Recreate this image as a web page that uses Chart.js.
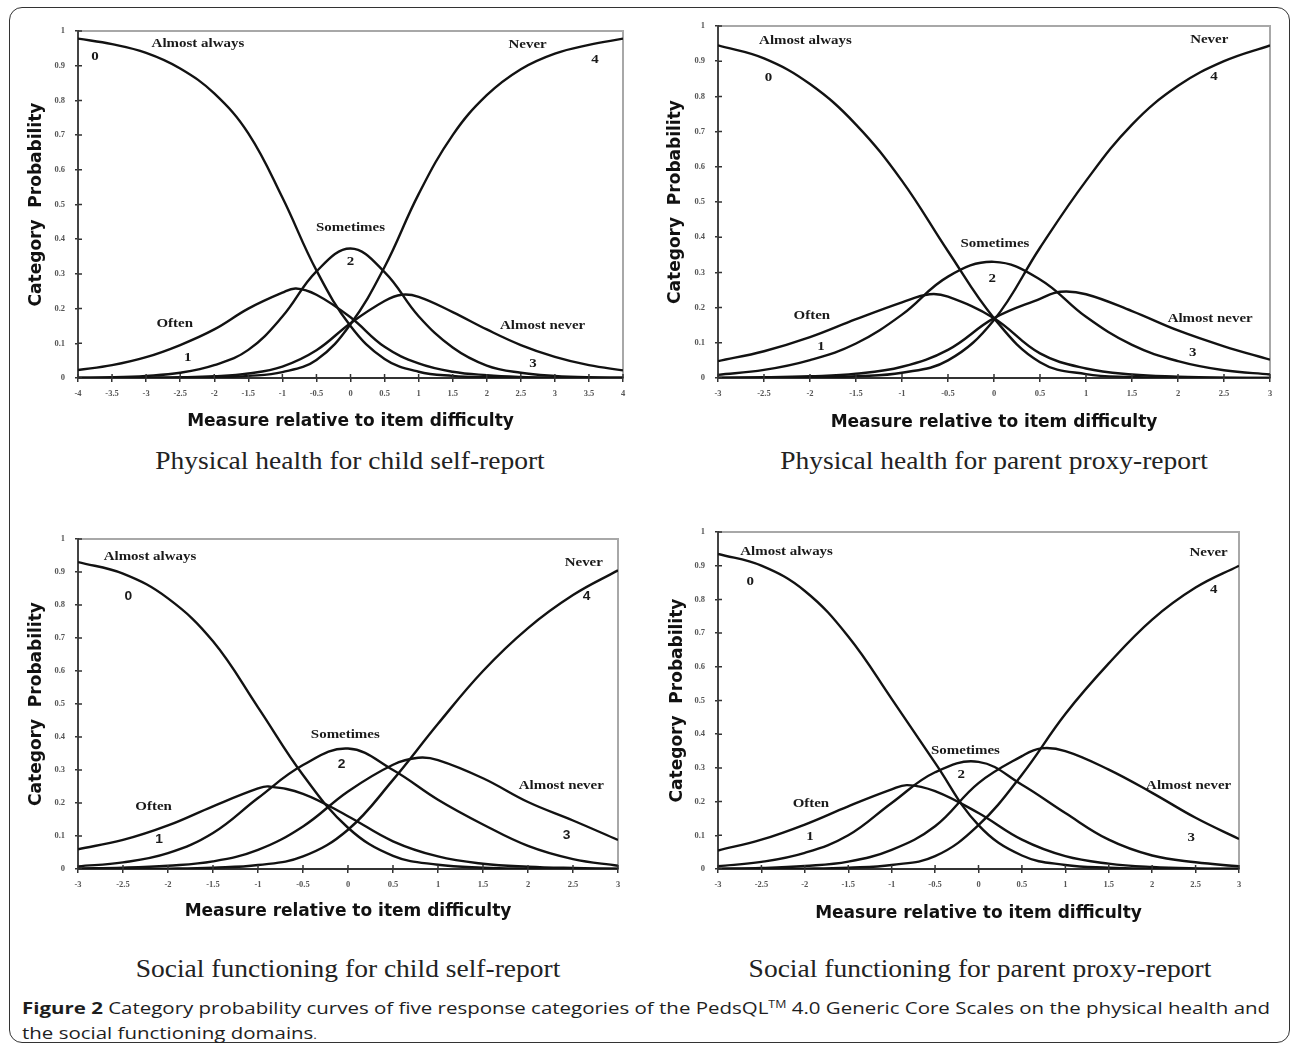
<!DOCTYPE html>
<html>
<head>
<meta charset="utf-8">
<script src="https://cdn.jsdelivr.net/npm/chart.js@4.4.0/dist/chart.umd.min.js"></script>
<style>
  body{margin:0;background:#fff;width:1290px;height:1053px;overflow:hidden;position:relative}
  #frame{position:absolute;left:9px;top:7px;width:1281px;height:1036px;border:1.5px solid #333;border-radius:13px;box-sizing:border-box}
  .panel{position:absolute}
  .sub{position:absolute;font-family:"Liberation Serif",serif;font-size:25px;line-height:30px;color:#222;white-space:nowrap;transform:translateX(-50%) scaleX(1.1)}
  #cap{position:absolute;left:22px;top:995px;font-family:"Open Sans",sans-serif;font-size:16.5px;line-height:25px;color:#1e1e1e;white-space:nowrap;transform-origin:0 0;transform:scaleX(1.24)}
  #cap sup{font-size:10px;line-height:0}
</style>
</head>
<body>
<div id="frame"></div>

<div class="panel" style="left:0;top:0"><canvas id="c1" width="640" height="440"></canvas></div>
<div class="panel" style="left:640px;top:0"><canvas id="c2" width="650" height="440"></canvas></div>
<div class="panel" style="left:0;top:490px"><canvas id="c3" width="640" height="440"></canvas></div>
<div class="panel" style="left:640px;top:490px"><canvas id="c4" width="650" height="440"></canvas></div>

<div class="sub" style="left:350px;top:446px">Physical health for child self-report</div>
<div class="sub" style="left:994px;top:446px">Physical health for parent proxy-report</div>
<div class="sub" style="left:348px;top:954px">Social functioning for child self-report</div>
<div class="sub" style="left:980px;top:954px">Social functioning for parent proxy-report</div>

<div id="cap"><b>Figure 2</b> Category probability curves of five response categories of the PedsQL<sup>TM</sup> 4.0 Generic Core Scales on the physical health and<br>the social functioning domains<span style="font-size:11px">.</span></div>

<script>
// ---- data ----
const categories = ["Almost always", "Often", "Sometimes", "Almost never", "Never"];

// physical health, child self-report (x from -4 to 4)
const phcX = [-4,-3.5,-3,-2.5,-2,-1.5,-1,-0.5,0,0.5,1,1.5,2,2.5,3,3.5,4];
const phcAlways      = [0.978,0.962,0.937,0.892,0.82,0.705,0.52,0.31,0.15,0.055,0.018,0.006,0.002,0.001,0,0,0];
const phcOften       = [0.023,0.037,0.06,0.095,0.14,0.2,0.246,0.24,0.175,0.09,0.042,0.018,0.008,0.003,0.001,0,0];
const phcSometimes   = [0.001,0.002,0.006,0.015,0.037,0.081,0.177,0.307,0.373,0.305,0.178,0.088,0.036,0.015,0.006,0.002,0.001];
const phcAlmostNever = [0,0,0.001,0.002,0.005,0.013,0.033,0.08,0.158,0.222,0.234,0.19,0.14,0.095,0.061,0.037,0.022];
const phcNever       = [0,0,0,0.001,0.002,0.006,0.017,0.052,0.155,0.32,0.53,0.70,0.815,0.89,0.935,0.96,0.978];
const phcPeaks = [null, [-0.8,0.258], null, [0.75,0.24], null];

// physical health, parent proxy-report
const pppX = [-3,-2.5,-2,-1.5,-1,-0.5,0,0.5,1,1.5,2,2.5,3];
const pppAlways      = [0.945,0.908,0.835,0.72,0.56,0.36,0.17,0.045,0.011,0.003,0.001,0,0];
const pppOften       = [0.048,0.076,0.116,0.167,0.215,0.231,0.17,0.07,0.027,0.01,0.004,0.001,0];
const pppSometimes   = [0.009,0.023,0.051,0.098,0.18,0.288,0.33,0.28,0.174,0.094,0.048,0.022,0.01];
const pppAlmostNever = [0.001,0.002,0.005,0.012,0.032,0.08,0.17,0.225,0.238,0.19,0.135,0.09,0.052];
const pppNever       = [0,0,0.001,0.005,0.015,0.05,0.165,0.37,0.56,0.72,0.83,0.9,0.945];
const pppPeaks = [null, [-0.7,0.238], null, [0.72,0.245], null];

// social functioning, child self-report
const sfcX = [-3,-2.5,-2,-1.5,-1,-0.5,0,0.5,1,1.5,2,2.5,3];
const sfcAlways      = [0.93,0.895,0.82,0.69,0.49,0.285,0.125,0.04,0.013,0.004,0.001,0,0];
const sfcOften       = [0.06,0.088,0.132,0.19,0.244,0.228,0.16,0.084,0.038,0.016,0.007,0.003,0.001];
const sfcSometimes   = [0.008,0.02,0.048,0.109,0.215,0.315,0.365,0.3,0.21,0.135,0.07,0.03,0.01];
const sfcAlmostNever = [0.002,0.004,0.01,0.023,0.058,0.129,0.235,0.316,0.33,0.275,0.203,0.147,0.088];
const sfcNever       = [0,0,0.001,0.004,0.012,0.038,0.119,0.27,0.44,0.60,0.73,0.83,0.905];
const sfcPeaks = [null, [-0.88,0.25], null, [0.78,0.337], null];

// social functioning, parent proxy-report
const sfpX = [-3,-2.5,-2,-1.5,-1,-0.5,0,0.5,1,1.5,2,2.5,3];
const sfpAlways      = [0.935,0.9,0.825,0.69,0.505,0.315,0.13,0.04,0.012,0.004,0.001,0,0];
const sfpOften       = [0.055,0.087,0.132,0.186,0.236,0.231,0.166,0.087,0.038,0.016,0.006,0.002,0.001];
const sfpSometimes   = [0.008,0.021,0.048,0.1,0.196,0.287,0.318,0.25,0.166,0.087,0.04,0.02,0.008];
const sfpAlmostNever = [0.001,0.003,0.009,0.022,0.057,0.127,0.255,0.335,0.35,0.295,0.226,0.152,0.089];
const sfpNever       = [0,0,0.001,0.004,0.012,0.038,0.13,0.28,0.46,0.61,0.74,0.835,0.9];
const sfpPeaks = [null, [-0.82,0.249], null, [0.72,0.358], null];

// in-plot labels (text, x, probability)
const phcLabels = [["Almost always",-2.24,0.963],["0",-3.75,0.925],["Never",2.6,0.96],["4",3.59,0.917],
  ["Sometimes",0,0.432],["2",0,0.335],["Often",-2.58,0.157],["1",-2.39,0.058],["Almost never",2.82,0.15],["3",2.68,0.04]];
const pppLabels = [["Almost always",-2.05,0.957],["0",-2.45,0.852],["Never",2.34,0.96],["4",2.39,0.855],
  ["Sometimes",0.01,0.382],["2",-0.02,0.282],["Often",-1.98,0.178],["1",-1.88,0.09],["Almost never",2.35,0.168],["3",2.16,0.071]];
const sfcLabels = [["Almost always",-2.2,0.948],["0",-2.44,0.825],["Never",2.62,0.927],["4",2.65,0.824],
  ["Sometimes",-0.03,0.408],["2",-0.07,0.315],["Often",-2.16,0.19],["1",-2.1,0.089],["Almost never",2.37,0.252],["3",2.43,0.1]];
const sfpLabels = [["Almost always",-2.21,0.941],["0",-2.63,0.853],["Never",2.65,0.94],["4",2.71,0.828],
  ["Sometimes",-0.15,0.352],["2",-0.2,0.28],["Often",-1.93,0.195],["1",-1.94,0.097],["Almost never",2.42,0.248],["3",2.45,0.092]];

const xTitle = "Measure relative to item difficulty";
const yTitle = "Category  Probability";

// ---- helpers ----
function points(xs, ys, peak){
    const p = xs.map((x,i)=>({x:x, y:ys[i]}));
    if(peak){
        p.push({x:peak[0], y:peak[1]});
        p.sort((a,b)=>a.x-b.x);
    }
    return p;
}

function fmt(v){
    return String(Math.round(v*10)/10);
}

// grey frame round the plot + small tick marks pointing into the plot
const plotBox = {
    id:"plotBox",
    beforeDraw(chart){
        const {ctx, chartArea:a} = chart;
        ctx.save();
        ctx.strokeStyle = "#a8a8a8";
        ctx.lineWidth = 2;
        ctx.strokeRect(a.left, a.top, a.right-a.left, a.bottom-a.top);
        ctx.restore();
    },
    afterDraw(chart){
        const {ctx, chartArea:a, scales} = chart;
        ctx.save();
        ctx.strokeStyle = "#333";
        ctx.lineWidth = 1.5;
        ctx.beginPath();
        scales.x.ticks.forEach(t=>{
            const px = scales.x.getPixelForValue(t.value);
            ctx.moveTo(px, a.bottom); ctx.lineTo(px, a.bottom-4);
        });
        scales.y.ticks.forEach(t=>{
            const py = scales.y.getPixelForValue(t.value);
            ctx.moveTo(a.left, py); ctx.lineTo(a.left+4, py);
        });
        ctx.stroke();
        ctx.restore();
    }
};

// category names and numbers written next to the curves
const curveLabels = {
    id:"curveLabels",
    afterDatasetsDraw(chart, args, opts){
        const {ctx, scales:{x, y}} = chart;
        (opts.items || []).forEach(it=>{
            const isNum = /^\d$/.test(it[0]);
            ctx.save();
            ctx.translate(x.getPixelForValue(it[1]), y.getPixelForValue(it[2]));
            ctx.scale(1.15, 1);
            ctx.font = isNum ? opts.numFont : 'bold 13px "Liberation Serif"';
            ctx.fillStyle = "#1a1a1a";
            ctx.textAlign = "center";
            ctx.textBaseline = "middle";
            ctx.fillText(it[0], 0, 0);
            ctx.restore();
        });
    }
};

function makeChart(id, p){
    const ctx = document.getElementById(id).getContext("2d");
    const series = [p.always, p.often, p.sometimes, p.almostNever, p.never];
    return new Chart(ctx,{
        type:"line",
        data:{
            datasets: series.map((ys,i)=>({
                label: categories[i],
                data: points(p.xs, ys, p.peaks[i]),
                borderColor:"#121212",
                borderWidth:2.4,
                pointRadius:0,
                fill:false,
                tension:0.4
            }))
        },
        options:{
            responsive:false,
            animation:false,
            devicePixelRatio:1,
            layout:{padding:{top:p.top, right:p.right, left:0, bottom:0}},
            scales:{
                x:{
                    type:"linear",
                    min:p.xs[0],
                    max:p.xs[p.xs.length-1],
                    afterFit(s){ s.height = p.xAxisH; },
                    border:{display:true, color:"#333", width:2},
                    grid:{display:true, drawOnChartArea:false, drawTicks:true, tickLength:4, color:"#333", lineWidth:1.5},
                    ticks:{
                        stepSize:0.5, autoSkip:false, maxRotation:0, padding:7,
                        color:"#555",
                        font:{family:"Liberation Serif", size:8.5, weight:"bold"},
                        callback:fmt
                    },
                    title:{
                        display:true, text:xTitle, color:"#111",
                        font:{family:"DejaVu Sans", size:17, weight:"bold"},
                        padding:{top:0, bottom:p.xTitlePad}
                    }
                },
                y:{
                    min:0, max:1,
                    afterFit(s){ s.width = 78; },
                    border:{display:true, color:"#444", width:2},
                    grid:{display:true, drawOnChartArea:false, drawTicks:true, tickLength:3, color:"#333", lineWidth:1.5},
                    ticks:{
                        stepSize:0.1, padding:10,
                        color:"#555",
                        font:{family:"Liberation Serif", size:8.5, weight:"bold"},
                        callback:fmt
                    },
                    title:{
                        display:true, text:yTitle, color:"#111",
                        font:{family:"DejaVu Sans", size:17, weight:"bold"},
                        padding:{top:p.yTitlePad, bottom:0}
                    }
                }
            },
            plugins:{
                legend:{display:false},
                tooltip:{enabled:false},
                curveLabels:{items:p.labels, numFont:p.numFont}
            }
        },
        plugins:[plotBox, curveLabels]
    });
}

const serifNum = 'bold 13px "Liberation Serif"';
const sansNum = 'bold 12px "Liberation Sans"';

makeChart("c1",{xs:phcX, always:phcAlways, often:phcOften, sometimes:phcSometimes, almostNever:phcAlmostNever, never:phcNever,
    peaks:phcPeaks, labels:phcLabels, numFont:serifNum, top:31, right:17, xAxisH:62, xTitlePad:8, yTitlePad:26.6});
makeChart("c2",{xs:pppX, always:pppAlways, often:pppOften, sometimes:pppSometimes, almostNever:pppAlmostNever, never:pppNever,
    peaks:pppPeaks, labels:pppLabels, numFont:serifNum, top:26, right:20, xAxisH:62, xTitlePad:6.8, yTitlePad:25});
makeChart("c3",{xs:sfcX, always:sfcAlways, often:sfcOften, sometimes:sfcSometimes, almostNever:sfcAlmostNever, never:sfcNever,
    peaks:sfcPeaks, labels:sfcLabels, numFont:sansNum, top:49, right:22, xAxisH:61, xTitlePad:8, yTitlePad:26.6});
makeChart("c4",{xs:sfpX, always:sfpAlways, often:sfpOften, sometimes:sfpSometimes, almostNever:sfpAlmostNever, never:sfpNever,
    peaks:sfpPeaks, labels:sfpLabels, numFont:serifNum, top:42, right:51, xAxisH:61, xTitlePad:6.5, yTitlePad:27.5});
</script>
</body>
</html>
